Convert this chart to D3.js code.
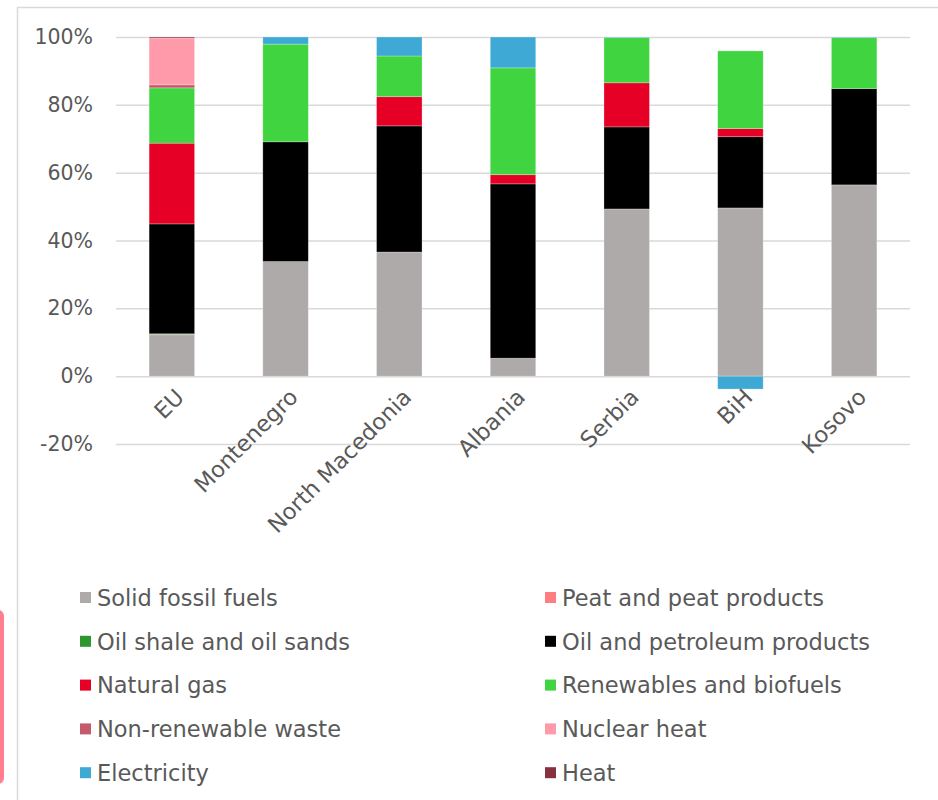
<!DOCTYPE html>
<html>
<head>
<meta charset="utf-8">
<script src="https://cdn.jsdelivr.net/npm/d3@7"></script>
<style>
  html, body { margin: 0; padding: 0; background: #fff; }
  svg { display: block; }
  text { font-family: "DejaVu Sans", sans-serif; fill: #595959; }
</style>
</head>
<body>
<svg id="chart" width="938" height="800"></svg>
<script>
// Share of gross available energy by fuel (fractions of total)
const countries = ["EU", "Montenegro", "North Macedonia", "Albania", "Serbia", "BiH", "Kosovo"];
const fuels = [
  "Solid fossil fuels", "Peat and peat products",
  "Oil shale and oil sands", "Oil and petroleum products",
  "Natural gas", "Renewables and biofuels",
  "Non-renewable waste", "Nuclear heat",
  "Electricity", "Heat"
];
const fuelColors = ["#aeaaaa", "#ff7c80", "#2e962e", "#000000", "#e60026", "#40d440", "#c55a6d", "#ff9aaa", "#3fa9d6", "#87303f"];

// one array per fuel, one value per country (same order as countries)
const solidFossil = [0.122, 0.338, 0.366, 0.053, 0.493, 0.496, 0.564];
const peat        = [0.001, 0, 0, 0, 0, 0, 0];
const oilShale    = [0.002, 0, 0, 0, 0, 0, 0];
const oil         = [0.324, 0.353, 0.372, 0.514, 0.242, 0.210, 0.284];
const naturalGas  = [0.238, 0, 0.086, 0.027, 0.130, 0.024, 0];
const renewables  = [0.163, 0.288, 0.120, 0.315, 0.133, 0.229, 0.150];
const waste       = [0.009, 0, 0, 0, 0, 0, 0];
const nuclear     = [0.138, 0, 0, 0, 0, 0, 0];
const electricity = [0, 0.021, 0.056, 0.091, 0.002, -0.038, 0.002];
const heat        = [0.003, 0, 0, 0, 0, 0, 0];
const seriesValues = [solidFossil, peat, oilShale, oil, naturalGas, renewables, waste, nuclear, electricity, heat];

const yTicks = [-0.2, 0, 0.2, 0.4, 0.6, 0.8, 1.0];
const yTickLabels = ["-20%", "0%", "20%", "40%", "60%", "80%", "100%"];

const rows = countries.map((c, i) => {
  const r = { country: c };
  fuels.forEach((f, k) => { r[f] = seriesValues[k][i]; });
  return r;
});

const svg = d3.select("#chart");

// outer chart frame
svg.append("path")
  .attr("d", "M17.5,800 L17.5,7.5 L940,7.5")
  .attr("fill", "none").attr("stroke", "#d9d9d9").attr("stroke-width", 1.5);
svg.append("rect")
  .attr("x", -20).attr("y", 610).attr("width", 24).attr("height", 174)
  .attr("rx", 6).attr("fill", "#ff7f90");

const x = d3.scaleBand().domain(countries).range([115, 911])
  .paddingInner(0.6).paddingOuter(0.3);
const y = d3.scaleLinear().domain([-0.2, 1.0]).range([444, 37]);

// gridlines and percentage labels
const yAxis = d3.axisLeft(y).tickValues(yTicks)
  .tickFormat((d, i) => yTickLabels[i])
  .tickSize(-(910 - 116)).tickPadding(23);
const ga = svg.append("g").attr("transform", "translate(116,0)").call(yAxis);
ga.select(".domain").remove();
ga.selectAll(".tick line").attr("stroke", "#d9d9d9").attr("stroke-width", 1.5);
ga.selectAll(".tick text").style("font-size", "20.5px").attr("fill", "#595959")
  .style("font-family", "'DejaVu Sans', sans-serif");

// stacked bars (negative values stack below zero)
const stack = d3.stack().keys(fuels).offset(d3.stackOffsetDiverging);
const layers = stack(rows);

svg.append("g").selectAll("g").data(layers).join("g")
  .attr("fill", (d, i) => fuelColors[i])
  .selectAll("rect")
  .data(d => d.filter(p => p[1] !== p[0]))
  .join("rect")
  .attr("x", d => x(d.data.country))
  .attr("width", x.bandwidth())
  .attr("y", d => y(Math.max(d[0], d[1])))
  .attr("height", d => Math.abs(y(d[0]) - y(d[1])))
  .attr("stroke", "#ffffff").attr("stroke-opacity", 0.35).attr("stroke-width", 0.75);

// rotated country labels
svg.append("g").selectAll("text").data(countries).join("text")
  .attr("transform", d => `translate(${x(d) + x.bandwidth() / 2 + 8},${393}) rotate(-45)`)
  .attr("text-anchor", "end")
  .attr("dy", "0.35em")
  .style("font-size", "22.5px")
  .text(d => d);

// legend: two columns, five rows
const leg = svg.append("g");
fuels.forEach((f, i) => {
  const col = i % 2, row = Math.floor(i / 2);
  const cy = 598 + row * 43.8;
  const sx = col === 0 ? 80 : 545;
  leg.append("rect").attr("x", sx).attr("y", cy - 6).attr("width", 11).attr("height", 11)
    .attr("fill", fuelColors[i]);
  leg.append("text").attr("x", sx + 17).attr("y", cy).attr("dy", "0.35em")
    .style("font-size", "22.5px").text(f);
});
</script>
</body>
</html>
